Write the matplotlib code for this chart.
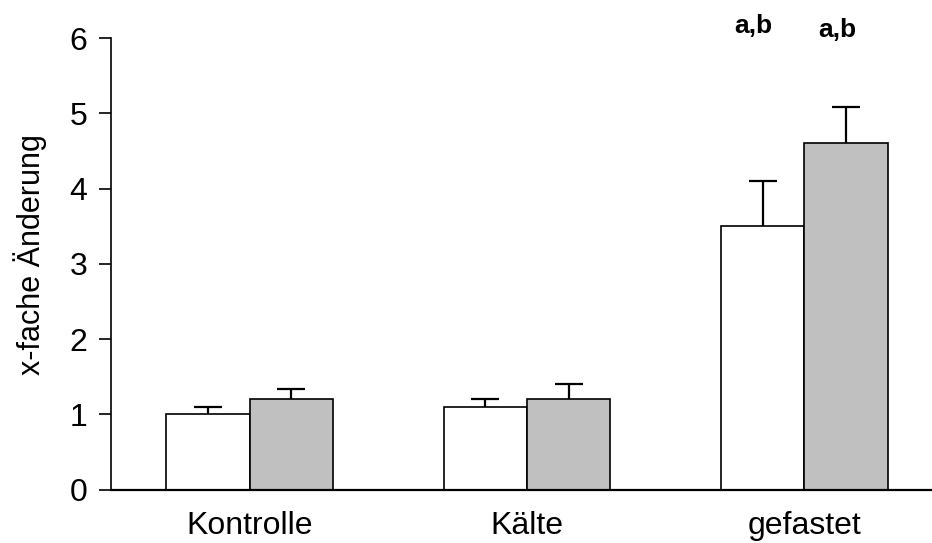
"""
Balkendiagramm: x-fache Änderung (Kontrolle, Kälte, gefastet)
"""

import numpy as np
from matplotlib import pyplot as plt

plt.rcParams["font.family"] = ["Liberation Sans", "DejaVu Sans"]

# Daten
gruppen = ["Kontrolle", "Kälte", "gefastet"]
werte_weiss = [1.0, 1.1, 3.5]
fehler_weiss = [0.1, 0.1, 0.6]
werte_grau = [1.2, 1.2, 4.6]
fehler_grau = [0.14, 0.2, 0.48]
signifikanz = ["", "", "a,b"]

x = np.arange(len(gruppen))
breite = 0.3

fig = plt.figure(figsize=(9.32, 5.43), dpi=100)
ax = fig.add_axes([0.119, 0.098, 0.881, 0.832])

for pos, werte, fehler, farbe in [(x - breite / 2, werte_weiss, fehler_weiss, "white"),
                                  (x + breite / 2, werte_grau, fehler_grau, "#c0c0c0")]:
    ax.bar(pos, werte, breite, color=farbe, edgecolor="black", linewidth=1.2, zorder=2)
    _, caps, _ = ax.errorbar(pos, werte, yerr=[np.zeros(3), fehler], fmt="none",
                             ecolor="black", elinewidth=1.6, capsize=10,
                             capthick=1.6, zorder=3)
    caps[0].set_visible(False)  # nur obere Kappe

# Signifikanz-Buchstaben
for i, s in enumerate(signifikanz):
    if s:
        ax.text(x[i] - breite / 2 - 0.035, 6.16, s, ha="center", va="center",
                fontsize=19, fontweight="bold", clip_on=False)
        ax.text(x[i] + breite / 2 - 0.03, 6.1, s, ha="center", va="center",
                fontsize=19, fontweight="bold", clip_on=False)

ax.set_xlim(-0.5, 2.46)
ax.set_ylim(0, 6)
ax.set_yticks(range(7))
ax.set_xticks(x)
ax.set_xticklabels(gruppen, fontsize=23)
ax.tick_params(axis="y", labelsize=23, length=9, width=1.2, direction="out", pad=8)
ax.tick_params(axis="x", length=0, pad=15)
ax.set_ylabel("x-fache Änderung", fontsize=22)
ax.yaxis.set_label_coords(-0.078, 0.52)

for s in ["top", "right"]:
    ax.spines[s].set_visible(False)
ax.spines["left"].set_linewidth(1.2)
ax.spines["bottom"].set_linewidth(1.6)

plt.savefig("out.png", dpi=100)
plt.close()
